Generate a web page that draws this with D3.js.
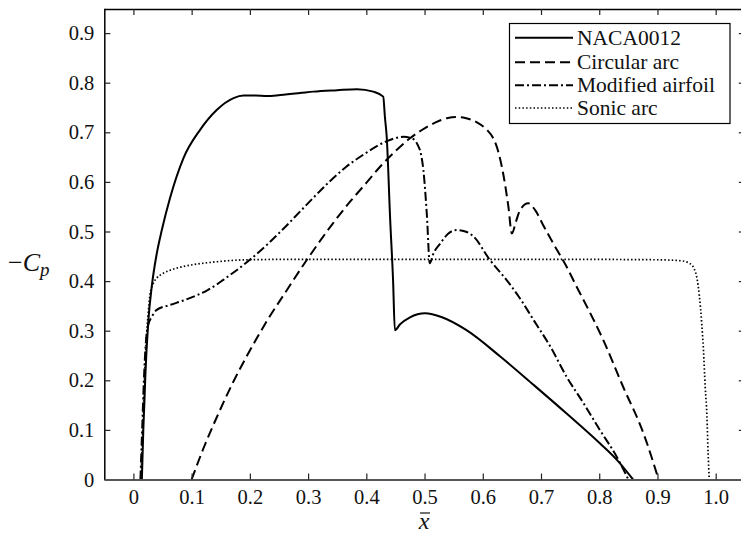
<!DOCTYPE html>
<html>
<head>
<meta charset="utf-8">
<script src="https://cdn.jsdelivr.net/npm/d3@7"></script>
<style>
  html, body { margin: 0; padding: 0; background: #fff; }
  svg { display: block; }
  svg text { font-family: "Liberation Serif", "Times New Roman", "DejaVu Serif", serif; }
</style>
</head>
<body>
<svg id="chart" width="741" height="538"></svg>
<script>
// Pressure coefficient distributions (-Cp against chordwise position x̄)
const seriesNames = ["NACA0012", "Circular arc", "Modified airfoil", "Sonic arc"];

const naca0012 = [
  [0.0145, 0], [0.017, 0.1], [0.019, 0.16], [0.0205, 0.21], [0.0258, 0.322], [0.0316, 0.39],
  [0.040, 0.455], [0.0488, 0.503], [0.063, 0.568], [0.086, 0.648], [0.1145, 0.705],
  [0.143, 0.745], [0.172, 0.769], [0.189, 0.774], [0.21, 0.774], [0.229, 0.773],
  [0.252, 0.775], [0.286, 0.779], [0.309, 0.782], [0.35, 0.785], [0.384, 0.787],
  [0.412, 0.782], [0.429, 0.772], [0.432, 0.73], [0.435, 0.691], [0.441, 0.523],
  [0.446, 0.40], [0.449, 0.301], [0.458, 0.313], [0.475, 0.327], [0.501, 0.335],
  [0.53, 0.327], [0.572, 0.301], [0.63, 0.248], [0.687, 0.191], [0.744, 0.133],
  [0.801, 0.073], [0.833, 0.036], [0.858, 0]
];

const circularArc = [
  [0.100, 0], [0.12, 0.062], [0.143, 0.125], [0.172, 0.198], [0.2, 0.26], [0.23, 0.321],
  [0.258, 0.372], [0.298, 0.443], [0.343, 0.517], [0.372, 0.560], [0.40, 0.598],
  [0.424, 0.631], [0.45, 0.662], [0.475, 0.688], [0.50, 0.708], [0.521, 0.721],
  [0.54, 0.729], [0.555, 0.731], [0.57, 0.729], [0.59, 0.72], [0.607, 0.705],
  [0.617, 0.690], [0.624, 0.671], [0.630, 0.645], [0.635, 0.617], [0.644, 0.550],
  [0.650, 0.496], [0.657, 0.52], [0.664, 0.543], [0.678, 0.557], [0.690, 0.543],
  [0.705, 0.51], [0.721, 0.476], [0.744, 0.429], [0.761, 0.389], [0.773, 0.362],
  [0.807, 0.281], [0.841, 0.187], [0.876, 0.093], [0.902, 0]
];

const modifiedAirfoil = [
  [0.012, 0], [0.015, 0.1], [0.018, 0.2], [0.021, 0.27], [0.025, 0.31], [0.0316, 0.328],
  [0.040, 0.342], [0.063, 0.352], [0.086, 0.361], [0.11, 0.372], [0.126, 0.381],
  [0.143, 0.393], [0.155, 0.403], [0.175, 0.42], [0.2, 0.443], [0.23, 0.474],
  [0.258, 0.506], [0.286, 0.540], [0.309, 0.568], [0.338, 0.602], [0.365, 0.630],
  [0.395, 0.655], [0.435, 0.682], [0.464, 0.691], [0.478, 0.688], [0.488, 0.675],
  [0.494, 0.655], [0.498, 0.624], [0.504, 0.533], [0.509, 0.436], [0.515, 0.455],
  [0.527, 0.476], [0.540, 0.495], [0.555, 0.503], [0.57, 0.5], [0.584, 0.490],
  [0.612, 0.443], [0.641, 0.402], [0.664, 0.365], [0.687, 0.322], [0.716, 0.268],
  [0.744, 0.207], [0.773, 0.154], [0.801, 0.100], [0.830, 0.046], [0.850, 0]
];

const sonicArc = [
  [0.013, 0], [0.016, 0.1], [0.019, 0.2], [0.022, 0.28], [0.025, 0.33], [0.0287, 0.375],
  [0.034, 0.395], [0.040, 0.406], [0.05, 0.415], [0.063, 0.422], [0.08, 0.428],
  [0.097, 0.432], [0.12, 0.436], [0.143, 0.439], [0.195, 0.443], [0.3, 0.444],
  [0.5, 0.444], [0.7, 0.444], [0.9, 0.443], [0.94, 0.441], [0.955, 0.436],
  [0.963, 0.425], [0.968, 0.405], [0.972, 0.37], [0.976, 0.315], [0.979, 0.261],
  [0.982, 0.187], [0.985, 0.127], [0.987, 0.053], [0.989, 0]
];

const xTicks = [0, 0.1, 0.2, 0.3, 0.4, 0.5, 0.6, 0.7, 0.8, 0.9, 1.0];
const yTicks = [0, 0.1, 0.2, 0.3, 0.4, 0.5, 0.6, 0.7, 0.8, 0.9];

const seriesData = [naca0012, circularArc, modifiedAirfoil, sonicArc];
const dashStyles = [null, "10,5", "9,3,2,3", "1.5,2.2"];
const strokeWidths = [2, 2, 2, 1.7];

const serif = '"Liberation Serif", "Times New Roman", "DejaVu Serif", serif';

const svg = d3.select("#chart");
const plotLeft = 104.3, plotRight = 744.8, plotTop = 8.3, plotBottom = 479.5;

const x = d3.scaleLinear().domain([-0.05, 1.05]).range([plotLeft, plotRight]);
const y = d3.scaleLinear().domain([0, 0.95]).range([plotBottom, plotTop]);

const fmt = d => d === 0 ? "0" : d3.format(".1f")(d);

// Axes with inward-pointing ticks on all four sides
const axisFont = g => {
  g.attr("font-family", null);
  g.selectAll("text")
    .style("font-family", serif)
    .style("font-size", "20.5px")
    .attr("fill", "#111");
};

const gLeft = svg.append("g").attr("transform", `translate(${plotLeft},0)`)
  .call(d3.axisLeft(y).tickValues(yTicks).tickFormat(fmt).tickSizeInner(-6).tickSizeOuter(0).tickPadding(10));
gLeft.select(".domain").attr("stroke", "#000").attr("stroke-width", 1.5);
gLeft.selectAll(".tick line").attr("stroke", "#222").attr("stroke-width", 1.2);
gLeft.call(axisFont);

const gRight = svg.append("g").attr("transform", `translate(${plotRight},0)`)
  .call(d3.axisRight(y).tickValues(yTicks).tickFormat("").tickSizeInner(-6).tickSizeOuter(0));
gRight.select(".domain").attr("stroke", "#000").attr("stroke-width", 1.5);
gRight.selectAll(".tick line").attr("stroke", "#222").attr("stroke-width", 1.2);

const gTop = svg.append("g").attr("transform", `translate(0,${plotTop + 0.7})`)
  .call(d3.axisTop(x).tickValues(xTicks).tickFormat("").tickSizeInner(-6).tickSizeOuter(0));
gTop.select(".domain").attr("stroke", "#000").attr("stroke-width", 1.3);
gTop.selectAll(".tick line").attr("stroke", "#222").attr("stroke-width", 1.2);

// Curves
const line = d3.line()
  .x(d => x(d[0]))
  .y(d => y(d[1]))
  .curve(d3.curveMonotoneX);

const plot = svg.append("g");
seriesData.forEach((data, i) => {
  plot.append("path")
    .datum(data)
    .attr("d", line)
    .attr("fill", "none")
    .attr("stroke", "#000")
    .attr("stroke-width", strokeWidths[i])
    .attr("stroke-dasharray", dashStyles[i])
    .attr("stroke-linejoin", "round");
});

const gBottom = svg.append("g").attr("transform", `translate(0,${plotBottom})`)
  .call(d3.axisBottom(x).tickValues(xTicks).tickFormat(fmt).tickSizeInner(-6).tickSizeOuter(0).tickPadding(10));
gBottom.select(".domain").attr("stroke", "#555").attr("stroke-width", 2);
gBottom.selectAll(".tick line").attr("stroke", "#222").attr("stroke-width", 1.2);
gBottom.call(axisFont);

// Axis titles
const yLabel = svg.append("text")
  .attr("x", 8).attr("y", 271)
  .style("font-family", serif).style("font-size", "26px").attr("fill", "#111");
yLabel.append("tspan").text("−");
yLabel.append("tspan").style("font-style", "italic").text("C");
yLabel.append("tspan").style("font-style", "italic").style("font-size", "19px").attr("dy", 5).text("p");

const xLabelX = 424, xLabelY = 529;
svg.append("text")
  .attr("x", xLabelX).attr("y", xLabelY)
  .attr("text-anchor", "middle")
  .style("font-family", serif).style("font-size", "24px").style("font-style", "italic")
  .attr("fill", "#111")
  .text("x");
svg.append("line")
  .attr("x1", xLabelX - 4).attr("x2", xLabelX + 6)
  .attr("y1", xLabelY - 16).attr("y2", xLabelY - 16)
  .attr("stroke", "#111").attr("stroke-width", 1.2);

// Legend
const legend = svg.append("g");
legend.append("rect")
  .attr("x", 509.5).attr("y", 23.5).attr("width", 220.5).attr("height", 100)
  .attr("fill", "#fff").attr("stroke", "#000").attr("stroke-width", 1.2);
const rowY = [37.7, 62.3, 85.2, 108];
seriesNames.forEach((name, i) => {
  legend.append("line")
    .attr("x1", 515).attr("x2", 573)
    .attr("y1", rowY[i]).attr("y2", rowY[i])
    .attr("stroke", "#000")
    .attr("stroke-width", strokeWidths[i])
    .attr("stroke-dasharray", dashStyles[i]);
  legend.append("text")
    .attr("x", 577).attr("y", rowY[i]).attr("dy", "0.33em")
    .style("font-family", serif).style("font-size", "21.5px").attr("fill", "#111")
    .text(name);
});
</script>
</body>
</html>
